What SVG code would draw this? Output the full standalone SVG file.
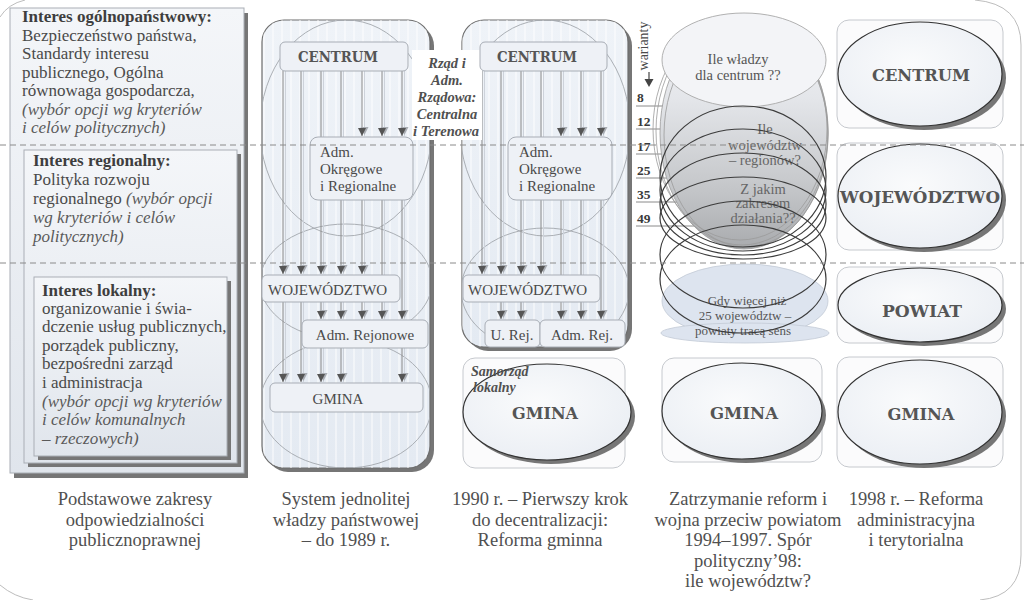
<svg xmlns="http://www.w3.org/2000/svg" width="1024" height="600" viewBox="0 0 1024 600">
<defs>
<linearGradient id="lbox" x1="0" y1="0" x2="0" y2="1"><stop offset="0" stop-color="#f4f6f9"/><stop offset="1" stop-color="#e0e5ec"/></linearGradient>
<linearGradient id="pfill" x1="0" y1="0" x2="0" y2="1"><stop offset="0" stop-color="#eff3f8"/><stop offset="1" stop-color="#e4eaf2"/></linearGradient>
<radialGradient id="efill" cx="0.45" cy="0.4" r="0.7"><stop offset="0" stop-color="#fafbfc"/><stop offset="1" stop-color="#e9edf3"/></radialGradient>
<linearGradient id="bowl" x1="0" y1="0" x2="0" y2="1"><stop offset="0" stop-color="#f5f6f8"/><stop offset="0.35" stop-color="#e4e6ea"/><stop offset="0.7" stop-color="#c8cacd"/><stop offset="1" stop-color="#a9abae"/></linearGradient>
<pattern id="stripes" width="9" height="10" patternUnits="userSpaceOnUse"><line x1="3" y1="0" x2="3" y2="10" stroke="#ffffff" stroke-opacity="0.45" stroke-width="2"/></pattern>
<marker id="ad" viewBox="-2 -8 12 13" markerWidth="12" markerHeight="13" refX="8" refY="0" orient="auto" markerUnits="userSpaceOnUse"><path d="M-1,-6.5 L7,-2.5 L-1,1.5 z" fill="#a9adb3"/><path d="M0,-4 L8,0 L0,4 z" fill="#555"/></marker>
<marker id="ak" viewBox="0 -5 9 10" markerWidth="9" markerHeight="10" refX="9" refY="0" orient="auto" markerUnits="userSpaceOnUse"><path d="M0,-4 L9,0 L0,4 z" fill="#444"/></marker>
<clipPath id="c2"><rect x="262" y="20" width="168" height="448" rx="22"/></clipPath>
<clipPath id="c3"><rect x="462" y="20" width="166" height="327" rx="22"/></clipPath>
</defs>
<style>
.t{font-family:"Liberation Serif","Times New Roman",serif;fill:#4a4a4a}
.b{font-weight:bold;fill:#3e3e3e}
.i{font-style:italic;fill:#5a5a5a}
.bi{font-style:italic;font-weight:bold;fill:#505050}
.slab{font-family:"DejaVu Serif",serif;font-weight:bold;fill:#555}
.box{fill:#eef1f6;stroke:#a8adb5;stroke-width:1}
.panel{fill:url(#pfill);stroke:#6d6d6d;stroke-width:1.2}
.shadow{fill:#767676}
.ell{fill:none;stroke:#a3a7ad;stroke-width:0.9}
.ln{stroke:#8a8a8a;stroke-width:1;fill:none}
.lns{stroke:#cdd2da;stroke-width:1;fill:none}
.card{fill:#fbfbfc;stroke:#c6c9ce;stroke-width:1}
.oval{fill:url(#efill);stroke:#333;stroke-width:1.2}
.dash{stroke:#8a8a8a;stroke-width:1;stroke-dasharray:6 4}
.dk{fill:none;stroke:#3c3c3c;stroke-width:1.2}
.thin{fill:none;stroke:#9a9a9a;stroke-width:0.8}
.frame{fill:none;stroke:#bdbdbd;stroke-width:1}
</style>
<rect width="1024" height="600" fill="#ffffff"/>
<g id="frame">
<path class="frame" d="M0,17 Q8,4 25,0"/>
<path class="frame" d="M975,0 Q1021,4 1021,45 L1021,555 Q1021,596 980,600"/>
<path class="frame" d="M0,585 Q14,597 33,600"/>
</g>

<g id="interest-boxes">
<rect x="14" y="13" width="234" height="465" class="shadow"/>
<rect x="10" y="8" width="234" height="465" fill="url(#lbox)" stroke="#a9aeb5"/>
<rect x="28" y="154" width="213" height="313" class="shadow"/>
<rect x="24" y="150" width="213" height="313" fill="url(#lbox)" stroke="#a9aeb5"/>
<rect x="38" y="281" width="193" height="179" class="shadow"/>
<rect x="34" y="277" width="193" height="179" fill="url(#lbox)" stroke="#a9aeb5"/>
<g class="t" font-size="17">
<text x="22" y="22" class="t b">Interes ogólnopaństwowy:</text>
<text x="22" y="40.5">Bezpieczeństwo państwa,</text>
<text x="22" y="59">Standardy interesu</text>
<text x="22" y="77.5">publicznego, Ogólna</text>
<text x="22" y="96">równowaga gospodarcza,</text>
<text x="22" y="114.5" class="t i">(wybór opcji wg kryteriów</text>
<text x="22" y="133" class="t i">i celów politycznych)</text>
<text x="33" y="166" class="t b">Interes regionalny:</text>
<text x="33" y="185">Polityka rozwoju</text>
<text x="33" y="204">regionalnego <tspan class="i">(wybór opcji</tspan></text>
<text x="33" y="223" class="t i">wg kryteriów i celów</text>
<text x="33" y="242" class="t i">politycznych)</text>
<text x="42" y="296" class="t b">Interes lokalny:</text>
<text x="42" y="314">organizowanie i świa-</text>
<text x="42" y="332">dczenie usług publicznych,</text>
<text x="42" y="351">porządek publiczny,</text>
<text x="42" y="369">bezpośredni zarząd</text>
<text x="42" y="388">i administracja</text>
<text x="42" y="407" class="t i">(wybór opcji wg kryteriów</text>
<text x="42" y="425" class="t i">i celów komunalnych</text>
<text x="42" y="444" class="t i">– rzeczowych)</text>
</g>
</g>

<g id="col2">
<rect x="266" y="24" width="168" height="448" rx="22" class="shadow"/>
<rect x="262" y="20" width="168" height="448" rx="22" class="panel"/>
<rect x="262" y="20" width="168" height="448" fill="url(#stripes)" clip-path="url(#c2)"/>
<g clip-path="url(#c2)">
<ellipse cx="346" cy="128" rx="86" ry="108" class="ell"/>
<ellipse cx="346" cy="282" rx="86" ry="58" class="ell"/>
<ellipse cx="346" cy="404" rx="86" ry="64" class="ell"/>
</g>
</g>

<g id="col3">
<rect x="466" y="24" width="166" height="327" rx="22" class="shadow"/>
<rect x="462" y="20" width="166" height="327" rx="22" class="panel"/>
<rect x="462" y="20" width="166" height="327" fill="url(#stripes)" clip-path="url(#c3)"/>
<g clip-path="url(#c3)">
<ellipse cx="545" cy="128" rx="85" ry="108" class="ell"/>
<ellipse cx="545" cy="290" rx="84" ry="62" class="ell"/>
</g>
</g>

<g id="connectors">
<path class="lns" d="M285.5 71V274M285.5 302V382M303.5 71V274M303.5 302V382M323.5 71V274M323.5 302V319M323.5 348V382M343.5 71V274M343.5 302V319M343.5 348V382M364.5 71V136M364.5 200V274M364.5 302V319M384.5 71V136M384.5 200V319M404.5 71V136M404.5 200V319M404.5 348V382"/>
<path class="lns" d="M484.5 71V274M503.5 71V274M503.5 302V319M523.5 71V274M523.5 302V319M543.5 71V274M563.5 71V136M563.5 200V319M583.5 71V136M583.5 200V319M603.5 71V136M603.5 200V319"/>
<g class="ln" marker-end="url(#ad)">
<path d="M283 71V274"/><path d="M283 302V382"/>
<path d="M301 71V274"/><path d="M301 302V382"/>
<path d="M321 71V274"/><path d="M321 302V319"/><path d="M321 348V382"/>
<path d="M341 71V274"/><path d="M341 302V319"/><path d="M341 348V382"/>
<path d="M362 71V136"/><path d="M362 200V274"/><path d="M362 302V319"/>
<path d="M382 71V136"/><path d="M382 200V319"/>
<path d="M402 71V136"/><path d="M402 200V319"/><path d="M402 348V382"/>
<path d="M482 71V274"/>
<path d="M501 71V274"/><path d="M501 302V319"/>
<path d="M521 71V274"/><path d="M521 302V319"/>
<path d="M541 71V274"/>
<path d="M561 71V136"/><path d="M561 200V319"/>
<path d="M581 71V136"/><path d="M581 200V319"/>
<path d="M601 71V136"/><path d="M601 200V319"/>
</g>
<g class="ln" marker-end="url(#ak)">
<path d="M636 106H726"/><path d="M636 129H726"/><path d="M636 154H726"/>
<path d="M636 178H726"/><path d="M636 202H726"/><path d="M636 226H726"/>
</g>
<path d="M649 72V80" stroke="#444" stroke-width="1.2"/>
<path d="M644.5 79H653.5L649 87z" fill="#444"/>
</g>

<g id="col2-nodes">
<g id="c2-centrum"><rect x="280" y="42" width="128" height="29" rx="5" class="box"/><text x="338" y="62" class="slab" font-size="14.5" text-anchor="middle" textLength="80" lengthAdjust="spacingAndGlyphs">CENTRUM</text></g>
<g id="c2-okr"><rect x="310" y="137" width="103" height="63" rx="8" class="box"/>
<text class="t" font-size="15" x="320"><tspan x="320" y="157">Adm.</tspan><tspan x="320" y="174">Okręgowe</tspan><tspan x="320" y="191">i Regionalne</tspan></text></g>
<g id="c2-woj"><rect x="262" y="275" width="138" height="27" rx="5" class="box"/><text x="268" y="295" class="t" font-size="15">WOJEWÓDZTWO</text></g>
<g id="c2-rej"><rect x="302" y="320" width="126" height="28" rx="5" class="box"/><text x="365" y="340" class="t" font-size="15" text-anchor="middle">Adm. Rejonowe</text></g>
<g id="c2-gmina"><rect x="270" y="383" width="153" height="29" rx="5" class="box"/><text x="338" y="404" class="t" font-size="15" text-anchor="middle">GMINA</text></g>
</g>

<g id="rzad-label">
<rect x="412" y="50" width="70" height="90" fill="#ffffff"/>
<text class="t bi" font-size="14.5" text-anchor="middle"><tspan x="447" y="68">Rząd i</tspan><tspan x="447" y="85">Adm.</tspan><tspan x="447" y="102">Rządowa:</tspan><tspan x="447" y="119">Centralna</tspan><tspan x="446" y="136">i Terenowa</tspan></text>
</g>

<g id="col3-nodes">
<g id="c3-centrum"><rect x="480" y="42" width="127" height="29" rx="5" class="box"/><text x="537" y="62" class="slab" font-size="14.5" text-anchor="middle" textLength="80" lengthAdjust="spacingAndGlyphs">CENTRUM</text></g>
<g id="c3-okr"><rect x="508" y="137" width="104" height="63" rx="8" class="box"/>
<text class="t" font-size="15"><tspan x="519" y="157">Adm.</tspan><tspan x="519" y="174">Okręgowe</tspan><tspan x="519" y="191">i Regionalne</tspan></text></g>
<g id="c3-woj"><rect x="463" y="275" width="137" height="27" rx="5" class="box"/><text x="468" y="295" class="t" font-size="15">WOJEWÓDZTWO</text></g>
<g id="c3-urej"><rect x="485" y="320" width="55" height="27" rx="5" class="box"/><text x="512" y="340" class="t" font-size="15" text-anchor="middle">U. Rej.</text></g>
<g id="c3-admrej"><rect x="540" y="320" width="85" height="27" rx="5" class="box"/><text x="582" y="340" class="t" font-size="15" text-anchor="middle">Adm. Rej.</text></g>
<g id="c3-gmina">
<rect x="463" y="358" width="162" height="110" rx="12" class="card"/>
<ellipse cx="551" cy="416" rx="84" ry="48" class="shadow"/>
<ellipse cx="547" cy="412" rx="84" ry="48" class="oval"/>
<text class="t bi" font-size="14"><tspan x="471" y="376">Samorząd</tspan><tspan x="473" y="392">lokalny</tspan></text>
<text x="545" y="419" class="slab" font-size="17" text-anchor="middle" textLength="66" lengthAdjust="spacingAndGlyphs">GMINA</text>
</g>
</g>

<g id="col4">
<text class="t" font-size="14" fill="#555" transform="translate(648,46) rotate(-90)" text-anchor="middle">warianty</text>
<g class="t" font-size="13.5" font-weight="bold" style="fill:#3a3a3a">
<text x="637" y="102">8</text><text x="637" y="126">12</text><text x="637" y="151">17</text>
<text x="637" y="175">25</text><text x="637" y="199">35</text><text x="637" y="223">49</text>
</g>
<g id="cylinder">
<ellipse cx="744" cy="133" rx="84" ry="116" fill="url(#bowl)"/>
<ellipse cx="744" cy="133" rx="84" ry="116" class="thin"/>
<ellipse cx="742" cy="131" rx="86" ry="114" class="thin"/>
<ellipse cx="746" cy="135" rx="82" ry="112" class="thin"/>
<ellipse cx="740" cy="129" rx="87" ry="111" class="thin"/>
<ellipse cx="744" cy="60" rx="82" ry="47" fill="#f3f4f7" stroke="#a8a8a8" stroke-width="0.9"/>
<text class="t" font-size="14.5" text-anchor="middle" style="fill:#555"><tspan x="738" y="64">Ile władzy</tspan><tspan x="738" y="80">dla centrum ??</tspan></text>
</g>
<g id="powiat-note">
<ellipse cx="745" cy="301" rx="83" ry="37" fill="#dde4ef" stroke="#c3cad6" stroke-width="0.8"/>
<ellipse cx="745" cy="333" rx="84" ry="10" fill="#dde4ef" stroke="#c3cad6" stroke-width="0.8"/>
<text class="t" font-size="13" text-anchor="middle" style="fill:#555"><tspan x="747" y="305">Gdy więcej niż</tspan><tspan x="745" y="320">25 województw –</tspan><tspan x="743" y="335">powiaty tracą sens</tspan></text>
</g>
<text class="t" font-size="14.5" text-anchor="middle" style="fill:#666"><tspan x="765" y="134">Ile</tspan><tspan x="765" y="150">województw</tspan><tspan x="765" y="165">– regionów?</tspan></text>
<text class="t" font-size="14.5" text-anchor="middle" style="fill:#666"><tspan x="763" y="194">Z jakim</tspan><tspan x="763" y="208">zakresem</tspan><tspan x="763" y="223">działania??</tspan></text>
<g id="variants">
<ellipse cx="743" cy="176.5" rx="83" ry="70.5" class="dk"/>
<ellipse cx="743" cy="190" rx="83" ry="61" class="dk"/>
<ellipse cx="743" cy="204" rx="83" ry="51" class="dk"/>
<ellipse cx="743" cy="218" rx="83" ry="41" class="dk"/>
<ellipse cx="743" cy="254.5" rx="83" ry="53.5" class="dk"/>
<ellipse cx="743" cy="279" rx="83" ry="54" class="dk"/>
</g>
<g id="c4-gmina">
<rect x="662" y="358" width="160" height="104" rx="12" class="card"/>
<ellipse cx="746" cy="415" rx="80" ry="48" class="shadow"/>
<ellipse cx="742" cy="411" rx="80" ry="48" class="oval"/>
<text x="744" y="419" class="slab" font-size="17" text-anchor="middle" textLength="68" lengthAdjust="spacingAndGlyphs">GMINA</text>
</g>
</g>

<g id="col5">
<g id="c5-centrum">
<rect x="837" y="20" width="166" height="108" rx="12" class="card"/>
<ellipse cx="924" cy="78" rx="82" ry="52" class="shadow"/>
<ellipse cx="920" cy="74" rx="82" ry="52" class="oval"/>
<text x="921" y="81" class="slab" font-size="17" text-anchor="middle" textLength="98" lengthAdjust="spacingAndGlyphs">CENTRUM</text>
</g>
<g id="c5-woj">
<rect x="837" y="143" width="166" height="107" rx="12" class="card"/>
<ellipse cx="924" cy="200" rx="82" ry="52" class="shadow"/>
<ellipse cx="920" cy="196" rx="82" ry="52" class="oval"/>
<text x="920" y="203" class="slab" font-size="17" text-anchor="middle" textLength="160" lengthAdjust="spacingAndGlyphs">WOJEWÓDZTWO</text>
</g>
<g id="c5-powiat">
<rect x="837" y="267" width="166" height="76" rx="12" class="card"/>
<ellipse cx="924" cy="309" rx="82" ry="37" class="shadow"/>
<ellipse cx="920" cy="305" rx="82" ry="37" class="oval"/>
<text x="922" y="317" class="slab" font-size="17" text-anchor="middle" textLength="80" lengthAdjust="spacingAndGlyphs">POWIAT</text>
</g>
<g id="c5-gmina">
<rect x="837" y="357" width="166" height="110" rx="12" class="card"/>
<ellipse cx="924" cy="416" rx="82" ry="52" class="shadow"/>
<ellipse cx="920" cy="412" rx="82" ry="52" class="oval"/>
<text x="921" y="420" class="slab" font-size="17" text-anchor="middle" textLength="67" lengthAdjust="spacingAndGlyphs">GMINA</text>
</g>
</g>

<g id="dashes">
<line x1="0" y1="145" x2="1024" y2="145" class="dash"/>
<line x1="0" y1="263" x2="1024" y2="263" class="dash"/>
</g>

<g id="captions" class="t" font-size="18.5" text-anchor="middle" style="fill:#505050">
<text><tspan x="135" y="505">Podstawowe zakresy</tspan><tspan x="135" y="525.5">odpowiedzialności</tspan><tspan x="135" y="546">publicznoprawnej</tspan></text>
<text><tspan x="346" y="505">System jednolitej</tspan><tspan x="346" y="525.5">władzy państwowej</tspan><tspan x="346" y="546">– do 1989 r.</tspan></text>
<text><tspan x="540" y="505">1990 r. – Pierwszy krok</tspan><tspan x="540" y="525.5">do decentralizacji:</tspan><tspan x="540" y="546">Reforma gminna</tspan></text>
<text><tspan x="748" y="505">Zatrzymanie reform i</tspan><tspan x="748" y="525.5">wojna przeciw powiatom</tspan><tspan x="748" y="546">1994–1997. Spór</tspan><tspan x="748" y="566.5">polityczny’98:</tspan><tspan x="748" y="587">ile województw?</tspan></text>
<text><tspan x="916" y="505">1998 r. – Reforma</tspan><tspan x="916" y="525.5">administracyjna</tspan><tspan x="916" y="546">i terytorialna</tspan></text>
</g>
</svg>
